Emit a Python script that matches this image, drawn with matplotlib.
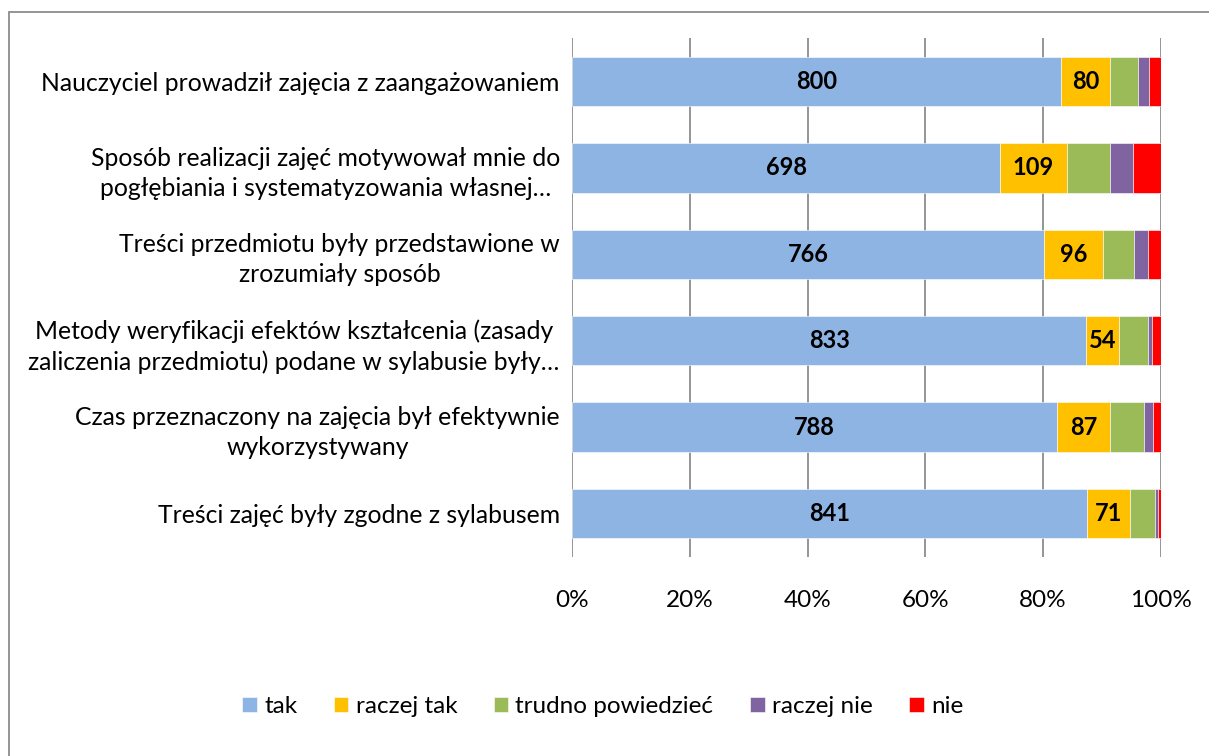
import numpy as np
import matplotlib.pyplot as plt
from matplotlib.patches import Rectangle

plt.rcParams['font.family'] = ['Lato', 'DejaVu Sans']

pytania = ['Nauczyciel prowadził zajęcia z zaangażowaniem',
           'Sposób realizacji zajęć motywował mnie do\npogłębiania i systematyzowania własnej…',
           'Treści przedmiotu były przedstawione w\nzrozumiały sposób',
           'Metody weryfikacji efektów kształcenia (zasady\nzaliczenia przedmiotu) podane w sylabusie były…',
           'Czas przeznaczony na zajęcia był efektywnie\nwykorzystywany',
           'Treści zajęć były zgodne z sylabusem']

odpowiedzi = ['tak', 'raczej tak', 'trudno powiedzieć', 'raczej nie', 'nie']
kolory = ['#8EB4E3', '#FFC000', '#9BBB59', '#8064A2', '#FF0000']

tak = [800, 698, 766, 833, 788, 841]
raczej_tak = [80, 109, 96, 54, 87, 71]
trudno = [45, 70, 49, 47, 55, 40]
raczej_nie = [19, 37, 24, 6, 14, 5]
nie = [19, 46, 20, 14, 13, 5]

dane = np.array([tak, raczej_tak, trudno, raczej_nie, nie], dtype=float)
proc = dane / dane.sum(axis=0) * 100

fig = plt.figure(figsize=(12.09, 7.56), dpi=100)
ax = fig.add_axes([0.4734, 0.2636, 0.4867, 0.6857])

# ramka wykresu (przycieta z prawej i z dolu)
fig.patches.append(Rectangle((9/1209, -0.05), 1.2, 1 - 12/756 + 0.05, transform=fig.transFigure,
                             fill=False, edgecolor='#8c8c8c', linewidth=1.3))

y = np.arange(len(pytania))
left = np.zeros(len(pytania))
for i in range(len(odpowiedzi)):
    bars = ax.barh(y, proc[i], left=left, height=0.57, color=kolory[i], label=odpowiedzi[i],
                   edgecolor='white', linewidth=0.4, zorder=3)
    if i < 2:
        for j, b in enumerate(bars):
            ax.text(left[j] + proc[i][j] / 2, y[j], '%d' % dane[i][j], ha='center', va='center',
                    fontsize=17, fontweight='bold', color='black', zorder=4)
    left += proc[i]

ax.set_xlim(0, 100)
ax.set_ylim(len(pytania) - 0.5, -0.5)
ax.set_xticks([0, 20, 40, 60, 80, 100])
ax.set_xticklabels(['0%', '20%', '40%', '60%', '80%', '100%'], fontsize=17.5)
ax.set_yticks(y)
ax.set_yticklabels(pytania, fontsize=17.8, multialignment='center', linespacing=1.37)
ax.tick_params(length=0, pad=9)
ax.tick_params(axis='x', pad=24)
ax.grid(axis='x', color='#8c8c8c', linewidth=1.3, zorder=0)
for s in ax.spines.values():
    s.set_visible(False)

fig.legend(loc='center', bbox_to_anchor=(0.4985, 0.0655), ncol=5, frameon=False, fontsize=17.5,
           handlelength=0.6, handleheight=0.6, handletextpad=0.3, columnspacing=1.5)

fig.savefig('out.png', dpi=100)
